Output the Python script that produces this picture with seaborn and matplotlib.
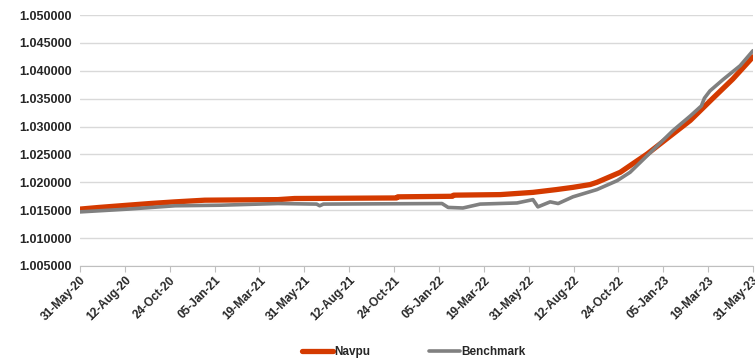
import pandas as pd
import matplotlib
matplotlib.use("Agg")
import matplotlib.pyplot as plt
import matplotlib.dates as mdates
import seaborn as sns

# values
navpu_dates = ["2020-05-31", "2020-07-01", "2020-08-17", "2020-09-22", "2020-11-02",
               "2020-12-20", "2021-04-18", "2021-05-15", "2021-10-28", "2021-10-30",
               "2022-01-27", "2022-01-29", "2022-04-15", "2022-06-07", "2022-07-15",
               "2022-08-11", "2022-09-08", "2022-09-19", "2022-10-27", "2022-12-10",
               "2023-01-21", "2023-02-18", "2023-03-27", "2023-04-28", "2023-05-31"]
navpu_values = [1.0152, 1.0155, 1.0159, 1.0162, 1.0165,
                1.0168, 1.0169, 1.0171, 1.0172, 1.0174,
                1.0175, 1.0177, 1.0178, 1.0182, 1.0187,
                1.0191, 1.0196, 1.0200, 1.0218, 1.0251,
                1.0287, 1.0311, 1.0351, 1.0385, 1.0425]

bench_dates = ["2020-05-31", "2020-08-17", "2020-11-02", "2021-01-15", "2021-04-18",
               "2021-06-20", "2021-06-25", "2021-07-01", "2022-01-10", "2022-01-20",
               "2022-02-13", "2022-03-13", "2022-05-12", "2022-06-07", "2022-06-15",
               "2022-07-05", "2022-07-18", "2022-08-11", "2022-09-19", "2022-10-22",
               "2022-11-12", "2022-12-10", "2023-01-21", "2023-02-18", "2023-03-08",
               "2023-03-13", "2023-03-22", "2023-04-12", "2023-05-10", "2023-05-31"]
bench_values = [1.0147, 1.0152, 1.0158, 1.0159, 1.0162,
                1.0161, 1.0158, 1.0161, 1.0162, 1.0155,
                1.0154, 1.0161, 1.0163, 1.0169, 1.0156,
                1.0165, 1.0162, 1.0174, 1.0187, 1.0203,
                1.0218, 1.0248, 1.0293, 1.0319, 1.0337,
                1.0351, 1.0364, 1.0384, 1.0409, 1.0436]

series_names = ["Navpu", "Benchmark"]
series_colors = ["#d43a00", "#808080"]

df = pd.concat([
    pd.DataFrame({"date": pd.to_datetime(navpu_dates), "value": navpu_values, "series": "Navpu"}),
    pd.DataFrame({"date": pd.to_datetime(bench_dates), "value": bench_values, "series": "Benchmark"}),
])

sns.set_style("white")
plt.rcParams["font.family"] = ["Liberation Sans", "DejaVu Sans"]

fig = plt.figure(figsize=(7.55, 3.63), dpi=100)
ax = fig.add_axes([80 / 755, 97 / 363, 673 / 755, 251 / 363])

sns.lineplot(data=df, x="date", y="value", hue="series", hue_order=series_names,
             palette=series_colors, ax=ax, legend=False)
ax.lines[0].set_linewidth(3.8)
ax.lines[1].set_linewidth(2.6)
ax.lines[1].set_zorder(3)
ax.lines[0].set_zorder(2)

ax.set_ylim(1.005, 1.050)
ax.set_yticks([1.005 + 0.005 * i for i in range(10)])
ax.yaxis.set_major_formatter(matplotlib.ticker.FormatStrFormatter("%.6f"))
ax.grid(axis="y", color="#d9d9d9", linewidth=1)
ax.set_axisbelow(True)

start = pd.Timestamp("2020-05-31")
xt = [start + pd.Timedelta(days=73 * i) for i in range(16)]
ax.set_xlim(xt[0], xt[-1])
ax.set_xticks(xt)
ax.xaxis.set_major_formatter(mdates.DateFormatter("%d-%b-%y"))
plt.setp(ax.get_xticklabels(), rotation=45, ha="right", rotation_mode="anchor")
for lab in ax.get_xticklabels() + ax.get_yticklabels():
    lab.set_fontweight("bold")
    lab.set_fontsize(8.5)
for lab in ax.get_yticklabels():
    lab.set_fontsize(9)

ax.tick_params(axis="x", length=4, color="#bfbfbf", bottom=True, pad=2)
ax.tick_params(axis="y", length=0, pad=6)
for s in ["top", "right", "left"]:
    ax.spines[s].set_visible(False)
ax.spines["bottom"].set_color("#bfbfbf")
ax.set_xlabel("")
ax.set_ylabel("")

handles = [plt.Line2D([], [], color=c, linewidth=lw) for c, lw in zip(series_colors, [3.8, 2.6])]
leg = fig.legend(handles, series_names, loc="center", bbox_to_anchor=(414 / 755, 11 / 363),
                 ncol=2, frameon=False, handlelength=2.6, columnspacing=5,
                 handletextpad=0.1, prop={"weight": "bold", "size": 8.5})

fig.savefig("out.png", dpi=100)
